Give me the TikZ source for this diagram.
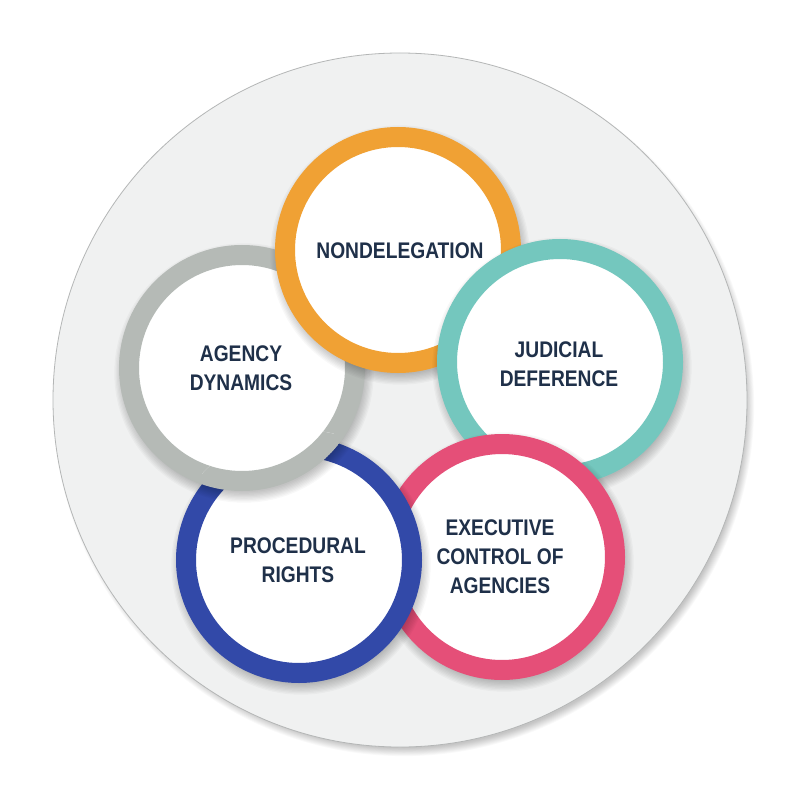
\documentclass[tikz,border=0pt]{standalone}
\usepackage{fontspec}
\newfontfamily\labfont{Liberation Sans}[FakeStretch=0.85]
\definecolor{bgc}{HTML}{F0F1F1}
\definecolor{edgec}{HTML}{B4B6B6}
\definecolor{orng}{HTML}{F0A134}
\definecolor{teal}{HTML}{74C7BE}
\definecolor{gry}{HTML}{B5BAB6}
\definecolor{blu}{HTML}{3249A8}
\definecolor{pnk}{HTML}{E54F78}
\definecolor{txt}{HTML}{1F3049}
\tikzset{
  ring/.style={circle, minimum size=226pt, inner sep=0pt, line width=20pt, fill=white, draw=#1},
  lab/.style={align=center, text=txt, font=\labfont\bfseries\fontsize{22.6}{29}\selectfont},
}
\newcommand{\softshadow}[3]{%
  \foreach \k in {1,...,9}{%
    \fill[black, opacity=0.028] (#1+2,#2+5) circle ({#3+1-\k*1.3});
  }%
}
\begin{document}
\begin{tikzpicture}[x=1pt,y=-1pt]
\useasboundingbox (0,0) rectangle (800,800);
\fill[white] (0,0) rectangle (800,800);
% background disc
\foreach \k in {1,...,10}{
  \fill[black, opacity=0.025] (404,406) circle ({351-\k*0.9});
}
\node[circle, minimum size=694pt, inner sep=0pt, fill=bgc, draw=edgec, line width=0.8pt] (bg) at (400,400) {};
% gray
\softshadow{242}{368}{130}
\node[ring=gry] (cg) at (242,368) {};
% orange
\softshadow{398}{250}{130}
\node[ring=orng] (co) at (398,250) {};
% teal
\softshadow{560}{362}{130}
\node[ring=teal] (ct) at (560,362) {};
% pink
\softshadow{502}{557}{130}
\node[ring=pnk] (cp) at (502,557) {};
% blue
\softshadow{299}{560}{130}
\node[ring=blu] (cb) at (299,560) {};
% gray again on top of blue: its shadow on blue, then the disc itself
\begin{scope}
  \clip (299,560) circle (123);
  \softshadow{242}{368}{130}
\end{scope}
\begin{scope}
  \clip (302,566) circle (136);
  \clip (242,368) circle (123.2);
  \node[ring=gry] (cg2) at (242,368) {};
\end{scope}
% labels
\node[lab] (tnd) at (400,251) {NONDELEGATION};
\node[lab] (tag) at (241,368) {AGENCY\\DYNAMICS};
\node[lab] (tjd) at (559,364) {JUDICIAL\\DEFERENCE};
\node[lab] (tpr) at (298,560) {PROCEDURAL\\RIGHTS};
\node[lab] (tec) at (500,557) {EXECUTIVE\\CONTROL OF\\AGENCIES};
\end{tikzpicture}
\end{document}
